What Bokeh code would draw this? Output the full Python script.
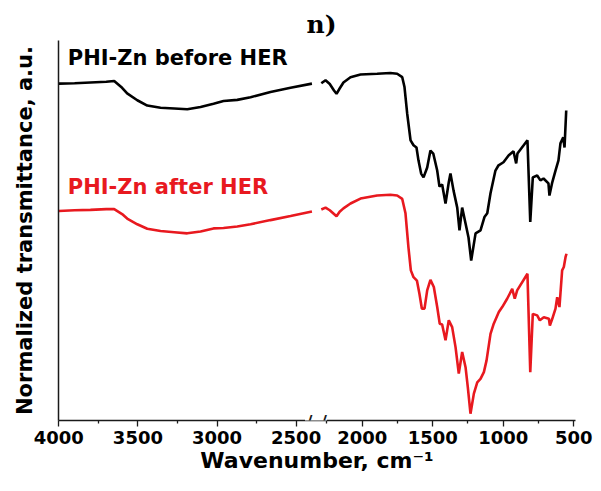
from bokeh.plotting import figure
from bokeh.models import Range1d, FixedTicker, Label
from bokeh.embed import file_html
from bokeh.resources import INLINE

# ---------------- data ----------------
# left segment of the broken axis (4000-2400 cm-1)
wn_left = [4000, 3900, 3800, 3700, 3650, 3600, 3568, 3504, 3441, 3357, 3270,
           3188, 3104, 3022, 2959, 2872, 2788, 2662, 2535, 2400]
before_left = [89.1, 89.2, 89.4, 89.6, 89.8, 88.0, 86.5, 84.7, 83.3, 82.7, 82.5,
               82.3, 82.9, 83.8, 84.5, 84.8, 85.5, 86.9, 88.0, 89.1]
after_left = [55.4, 55.6, 55.7, 55.9, 55.9, 54.6, 53.4, 51.9, 50.7, 50.1, 49.8,
              49.5, 50.0, 50.8, 50.9, 51.3, 51.9, 53.0, 54.1, 55.3]

# right segment of the broken axis (2300-500 cm-1)
wn_before_right = [2290, 2260, 2230, 2200, 2182, 2160, 2133, 2083, 2012, 1894, 1800,
                   1752, 1716, 1700, 1681, 1657, 1636, 1615, 1601, 1582, 1565, 1539,
                   1516, 1496, 1468, 1452, 1433, 1409, 1386, 1374, 1352, 1326, 1310,
                   1291, 1267, 1246, 1227, 1196, 1161, 1133, 1113, 1090, 1055, 1033,
                   998, 962, 927, 908, 899, 828, 808, 790, 759, 736, 714, 679, 672,
                   652, 629, 608, 594, 574, 565, 553]
before_right = [89.2, 90.0, 89.0, 87.3, 86.4, 87.8, 89.4, 90.8, 91.5, 91.7, 91.9,
                91.7, 90.8, 88.2, 81.2, 74.1, 72.8, 72.2, 68.8, 65.3, 64.3, 66.9,
                71.4, 70.6, 66.1, 61.9, 62.4, 57.4, 63.0, 65.3, 60.8, 56.3, 50.3,
                56.3, 52.1, 48.4, 42.3, 49.5, 50.3, 53.8, 54.8, 60.1, 66.1, 67.5,
                68.3, 70.1, 71.2, 68.0, 70.6, 74.1, 52.5, 64.3, 64.8, 63.5, 64.0,
                62.7, 59.5, 63.0, 66.1, 68.8, 73.3, 74.9, 72.2, 82.0]

wn_after_right = [2290, 2260, 2230, 2200, 2182, 2160, 2133, 2083, 2012, 1894, 1800,
                  1752, 1716, 1693, 1672, 1655, 1636, 1612, 1594, 1577, 1558, 1539,
                  1516, 1492, 1468, 1450, 1433, 1409, 1386, 1362, 1338, 1315, 1291,
                  1267, 1251, 1232, 1208, 1184, 1161, 1137, 1118, 1090, 1067, 1031,
                  1007, 972, 936, 918, 901, 828, 808, 790, 759, 740, 712, 676, 669,
                  652, 629, 617, 601, 582, 570, 558, 551]
after_right = [55.8, 56.3, 55.6, 54.6, 54.0, 55.2, 56.1, 57.4, 58.7, 59.5, 59.7,
               59.5, 58.6, 54.8, 45.8, 39.7, 37.9, 37.0, 33.5, 29.6, 29.6, 34.4,
               37.2, 35.3, 30.0, 25.6, 25.4, 21.2, 26.5, 24.7, 19.4, 12.4, 18.1,
               14.1, 8.8, 1.8, 7.1, 10.1, 11.0, 12.8, 15.9, 22.9, 25.6, 28.7,
               30.0, 32.2, 34.8, 32.2, 34.4, 38.8, 12.8, 28.2, 27.8, 26.5, 27.3,
               26.9, 25.1, 26.9, 29.6, 32.6, 30.0, 39.7, 40.6, 43.2, 44.1]

left_major = [4000, 3500, 3000, 2500]
left_minor = [3750, 3250, 2750]
right_major = [2000, 1500, 1000, 500]
right_minor = [2250, 1750, 1250, 750]

series_names = ["PHI-Zn before HER", "PHI-Zn after HER"]
series_colors = ["#000000", "#e8191f"]

# ---------------- ranges for the two parts of the broken axis ----------------
L_START, L_END = 4002.0, 734.0
R_START, R_END = 4153.9, 487.2


def r_to_l(w):
    frac = (R_START - w) / (R_START - R_END)
    return L_START + frac * (L_END - L_START)


p = figure(width=601, height=491, output_backend="svg", toolbar_location=None,
           x_range=Range1d(L_START, L_END), y_range=Range1d(0, 100.5),
           min_border_left=58, min_border_right=26, min_border_top=40,
           min_border_bottom=71)
p.extra_x_ranges = {"right": Range1d(R_START, R_END)}

p.line(wn_left, before_left, line_color=series_colors[0], line_width=2.6)
p.line(wn_left, after_left, line_color=series_colors[1], line_width=2.6)
p.line(wn_before_right, before_right, line_color=series_colors[0], line_width=2.6,
       x_range_name="right")
p.line(wn_after_right, after_right, line_color=series_colors[1], line_width=2.6,
       x_range_name="right")

# ---------------- axes ----------------
major_pos = list(map(float, left_major)) + [r_to_l(w) for w in right_major]
minor_pos = list(map(float, left_minor)) + [r_to_l(w) for w in right_minor]
labels = [str(w) for w in left_major + right_major]

xa = p.xaxis[0]
xa.ticker = FixedTicker(ticks=major_pos, minor_ticks=minor_pos)
xa.major_label_overrides = {pos: lab for pos, lab in zip(major_pos, labels)}
xa.axis_label = "Wavenumber, cm\u207b\u00b9"

ya = p.yaxis[0]
ya.ticker = FixedTicker(ticks=[], minor_ticks=[])
ya.axis_label = "Normalized transmittance, a.u."

for ax in (xa, ya):
    ax.axis_line_color = "#1a1a1a"
    ax.axis_line_width = 1.5
    ax.major_tick_line_color = "#1a1a1a"
    ax.minor_tick_line_color = "#1a1a1a"
    ax.major_tick_line_width = 1.3
    ax.minor_tick_line_width = 1.3
    ax.major_tick_in = 0
    ax.minor_tick_in = 0
    ax.axis_label_text_font = "DejaVu Sans"
    ax.axis_label_text_font_style = "bold"
    ax.axis_label_text_color = "black"
    ax.major_label_text_font = "DejaVu Sans"
    ax.major_label_text_font_style = "bold"
    ax.major_label_text_color = "black"

xa.major_tick_out = 6
xa.minor_tick_out = 3
xa.major_label_text_font_size = "18px"
xa.major_label_standoff = 4
xa.axis_label_text_font_size = "22px"
xa.axis_label_standoff = 1

ya.major_tick_out = 0
ya.minor_tick_out = 0
ya.axis_label_text_font_size = "21px"
ya.axis_label_standoff = 22

p.xgrid.visible = False
p.ygrid.visible = False
p.outline_line_color = None
p.background_fill_color = "white"
p.border_fill_color = "white"

# ---------------- axis break mark ----------------
break_x = (wn_left[-1] + r_to_l(2300)) / 2.0
p.add_layout(Label(x=break_x, y=-0.8, text="/ /", text_align="center",
                   text_baseline="middle", text_font="DejaVu Sans",
                   text_font_size="22px", text_color="#1a1a1a",
                   background_fill_color="white"))

# ---------------- series labels ----------------
p.add_layout(Label(x=3943, y=92.8, text=series_names[0], text_font="DejaVu Sans",
                   text_font_style="bold", text_font_size="21px",
                   text_color=series_colors[0]))
p.add_layout(Label(x=3943, y=58.6, text=series_names[1], text_font="DejaVu Sans",
                   text_font_style="bold", text_font_size="21px",
                   text_color=series_colors[1]))

# ---------------- title ----------------
p.title.text = "n)"
p.title.text_font = "DejaVu Serif"
p.title.text_font_style = "bold"
p.title.text_font_size = "25px"
p.title.align = "left"
p.title.offset = 248
p.title.standoff = 3
p.title.text_color = "black"

open("out.html", "w").write(file_html(p, INLINE))
